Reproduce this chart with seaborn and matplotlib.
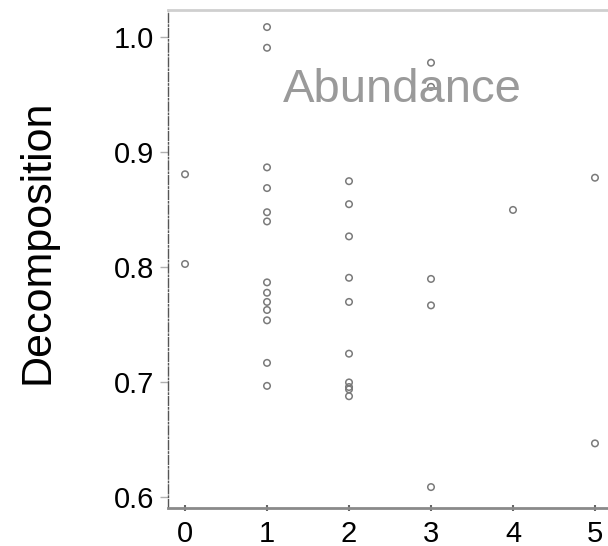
import matplotlib
matplotlib.use('Agg')
import matplotlib.pyplot as plt
import seaborn as sns
import pandas as pd
from matplotlib import font_manager

# values
abundance = [0, 0,
             1, 1, 1, 1, 1, 1, 1, 1, 1, 1, 1, 1, 1,
             2, 2, 2, 2, 2, 2, 2, 2, 2, 2,
             3, 3, 3, 3, 3,
             4,
             5, 5]
decomposition = [0.881, 0.803,
                 1.009, 0.991, 0.887, 0.869, 0.848, 0.840, 0.787, 0.778, 0.770, 0.763, 0.754, 0.717, 0.697,
                 0.875, 0.855, 0.827, 0.791, 0.770, 0.725, 0.700, 0.696, 0.694, 0.688,
                 0.978, 0.957, 0.790, 0.767, 0.609,
                 0.850,
                 0.878, 0.647]
x_ticks = [0, 1, 2, 3, 4, 5]
y_ticks = [0.6, 0.7, 0.8, 0.9, 1.0]
y_tick_labels = ['0.6', '0.7', '0.8', '0.9', '1.0']

df = pd.DataFrame({'Abundance': abundance, 'Decomposition': decomposition})

sns.set_style('white')
plt.rcParams['font.family'] = ['Liberation Sans', 'DejaVu Sans']
plt.rcParams['text.color'] = 'black'
plt.rcParams['axes.labelcolor'] = 'black'
plt.rcParams['xtick.labelcolor'] = 'black'
plt.rcParams['ytick.labelcolor'] = 'black'

installed = {f.name for f in font_manager.fontManager.ttflist}
label_font = 'Liberation Sans Narrow' if 'Liberation Sans Narrow' in installed else 'Liberation Sans'
label_size = 38 if label_font == 'Liberation Sans Narrow' else 31

fig = plt.figure(figsize=(6.08, 5.46), dpi=100)
ax = fig.add_axes([0.276, 0.070, 0.770, 0.912])

sns.scatterplot(data=df, x='Abundance', y='Decomposition', ax=ax,
                marker='o', s=22, facecolor='none', edgecolor='#7a7a7a', linewidth=1.1)

ax.set_xlim(-0.21, 5.5)
ax.set_ylim(0.591, 1.024)
ax.set_xticks(x_ticks)
ax.set_yticks(y_ticks)
ax.set_yticklabels(y_tick_labels)
ax.tick_params(axis='y', labelsize=21, length=6, width=1, color='#b0b0b0', pad=4, left=True)
ax.tick_params(axis='x', labelsize=21, length=4, width=1.5, color='#666666', direction='inout', pad=7, bottom=True)

ax.set_xlabel('')
ax.set_ylabel('Decomposition', fontsize=label_size, family=[label_font, 'DejaVu Sans'])
ax.yaxis.label.set_va('center')
ax.yaxis.set_label_coords(-0.278, 0.534)

ax.text(0.502, 0.840, 'Abundance', transform=ax.transAxes, ha='center', va='center',
        fontsize=34, color='#9a9a9a')

ax.spines['left'].set_color('#555555')
ax.spines['left'].set_linestyle('-.')
ax.spines['left'].set_linewidth(1.0)
ax.spines['bottom'].set_color('#8a8a8a')
ax.spines['bottom'].set_linewidth(2.0)
ax.spines['top'].set_color('#cfcfcf')
ax.spines['top'].set_linewidth(2.0)
ax.spines['right'].set_visible(False)

fig.savefig('out.png', dpi=100)
